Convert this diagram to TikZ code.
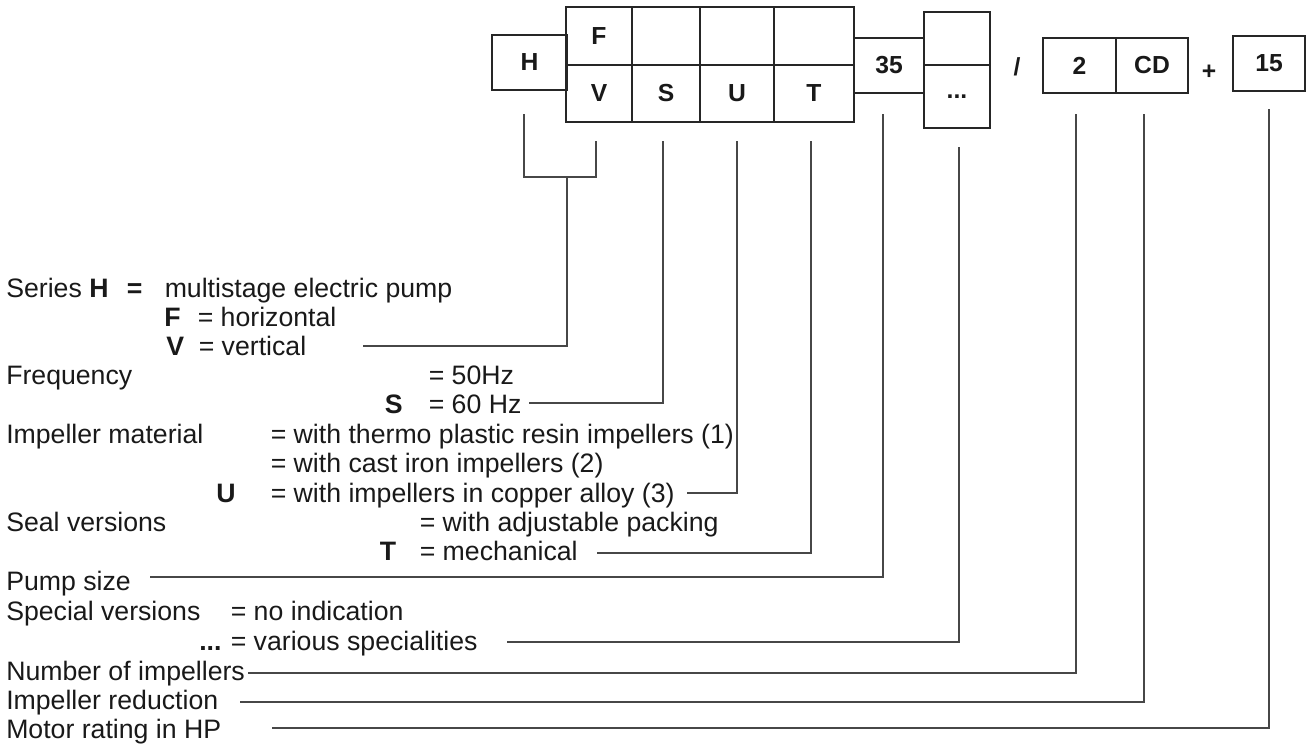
\documentclass[tikz,border=0pt]{standalone}
\usepackage{fontspec}
\setmainfont{Liberation Sans}
\begin{document}
\begin{tikzpicture}[x=0.75pt,y=-0.75pt,
  box/.style={draw=black!85,line width=1pt,inner sep=0,font=\fontsize{18.5pt}{21pt}\selectfont\bfseries,text=black!90},
  lbl/.style={inner sep=0,font=\fontsize{18.5pt}{21pt}\selectfont\bfseries,text=black!90},
  txt/.style={inner sep=0,anchor=base west,font=\fontsize{20pt}{24pt}\selectfont,text=black!90},
  btxt/.style={inner sep=0,anchor=base west,font=\fontsize{20pt}{24pt}\selectfont\bfseries,text=black!90},
  conn/.style={draw=black!72,line width=0.8pt}]
\useasboundingbox (0,0) rectangle (1306,744);
% ---------- code boxes ----------
\node[box,minimum width=56.25pt,minimum height=41.25pt] (Hb) at (529.5,62.5) {H};
\node[box,minimum width=49.5pt,minimum height=43.5pt] (Fb) at (599,36) {F};
\node[box,minimum width=49.5pt,minimum height=42.75pt] (Vb) at (599,93.5) {V};
\node[box,minimum width=51pt,minimum height=43.5pt] (E2) at (666,36) {};
\node[box,minimum width=51pt,minimum height=42.75pt] (Sb) at (666,93.5) {S};
\node[box,minimum width=55.5pt,minimum height=43.5pt] (E3) at (737,36) {};
\node[box,minimum width=55.5pt,minimum height=42.75pt] (Ub) at (737,93.5) {U};
\node[box,minimum width=60pt,minimum height=43.5pt] (E4) at (814,36) {};
\node[box,minimum width=60pt,minimum height=42.75pt] (Tb) at (814,93.5) {T};
\node[box,minimum width=52.5pt,minimum height=41.25pt] (Nb) at (889,65.5) {35};
\node[box,minimum width=49.5pt,minimum height=39.75pt] (Dt) at (957,38.5) {};
\node[box,minimum width=49.5pt,minimum height=47.25pt] (Db) at (957,96.5) {...};
\node[lbl] (slash) at (1017,67) {/};
\node[box,minimum width=54.75pt,minimum height=41.25pt] (Ib) at (1079.5,65.5) {2};
\node[box,minimum width=54pt,minimum height=41.25pt] (Cb) at (1152,65.5) {CD};
\node[lbl] (plus) at (1209,72) {+};
\node[box,minimum width=54pt,minimum height=41.25pt] (Mb) at (1269,63.5) {15};
% ---------- legend text ----------
\node[txt] (t1a) at (6,297) {Series};
\node[btxt] (t1b) at (89,297) {H};
\node[btxt] (t1c) at (126.5,297) {=};
\node[txt] (t1d) at (164.5,297) {multistage electric pump};
\node[btxt] (t2a) at (164,326) {F};
\node[txt] (t2b) at (197.5,326) {= horizontal};
\node[btxt] (t3a) at (166,355) {V};
\node[txt] (t3b) at (198.5,355) {= vertical};
\node[txt] (t4a) at (6,384.5) {Frequency};
\node[txt] (t4b) at (428.5,384.5) {= 50Hz};
\node[btxt] (t5a) at (384.5,413) {S};
\node[txt] (t5b) at (428.5,413) {= 60 Hz};
\node[txt] (t6a) at (6,443) {Impeller material};
\node[txt] (t6b) at (270.5,443) {= with thermo plastic resin impellers (1)};
\node[txt] (t7b) at (270.5,472) {= with cast iron impellers (2)};
\node[btxt] (t8a) at (216,502) {U};
\node[txt] (t8b) at (270.5,502) {= with impellers in copper alloy (3)};
\node[txt] (t9a) at (6,531) {Seal versions};
\node[txt] (t9b) at (419.5,531) {= with adjustable packing};
\node[btxt] (t10a) at (379.5,560) {T};
\node[txt] (t10b) at (419.5,560) {= mechanical};
\node[txt] (t11a) at (6,590) {Pump size};
\node[txt] (t12a) at (6,620) {Special versions};
\node[txt] (t12b) at (230.5,620) {= no indication};
\node[btxt] (t13a) at (199,650) {...};
\node[txt] (t13b) at (230.5,650) {= various specialities};
\node[txt] (t14a) at (6,680) {Number of impellers};
\node[txt] (t15a) at (6,709) {Impeller reduction};
\node[txt] (t16a) at (6,738) {Motor rating in HP};
% ---------- connector end points ----------
\coordinate (hTop) at (524,114);
\coordinate (vTop) at (596,141);
\coordinate (brk) at (567,177);
\coordinate (vEnd) at (363,346);
\coordinate (sTop) at (663,141);
\coordinate (sEnd) at (529,403);
\coordinate (uTop) at (737,141);
\coordinate (uEnd) at (687,493);
\coordinate (tTop) at (811,141);
\coordinate (tEnd) at (597,553);
\coordinate (nTop) at (883,114);
\coordinate (nEnd) at (150,577);
\coordinate (dTop) at (959,147);
\coordinate (dEnd) at (507,642);
\coordinate (iTop) at (1076,114);
\coordinate (iEnd) at (248,673);
\coordinate (cTop) at (1144,114);
\coordinate (cEnd) at (240,702);
\coordinate (mTop) at (1269,109);
\coordinate (mEnd) at (272,728);
% ---------- connectors ----------
\draw[conn] (hTop) |- (brk) -| (vTop);
\draw[conn] (vEnd) -| (brk);
\draw[conn] (sEnd) -| (sTop);
\draw[conn] (uEnd) -| (uTop);
\draw[conn] (tEnd) -| (tTop);
\draw[conn] (nEnd) -| (nTop);
\draw[conn] (dEnd) -| (dTop);
\draw[conn] (iEnd) -| (iTop);
\draw[conn] (cEnd) -| (cTop);
\draw[conn] (mEnd) -| (mTop);
\end{tikzpicture}
\end{document}
